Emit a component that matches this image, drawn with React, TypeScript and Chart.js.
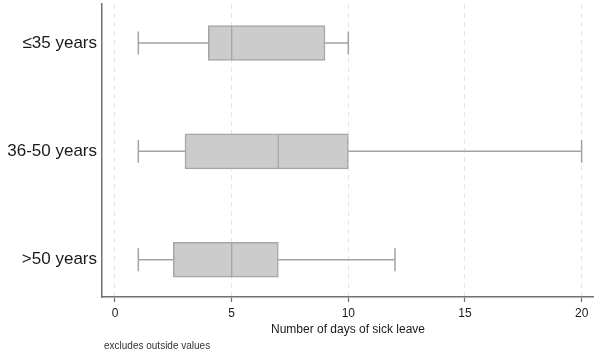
import React, { useEffect, useRef } from "react";
import { Chart, registerables } from "chart.js";
Chart.register(...registerables);

const categories = ["≤35 years", "36-50 years", ">50 years"];
const categoryPositions = [1, 2, 3];
const minValues = [1, 1, 1];
const q1Values = [4, 3, 2.5];
const medianValues = [5, 7, 5];
const q3Values = [9, 10, 7];
const maxValues = [10, 20, 12];
const xTickValues = [0, 5, 10, 15, 20];
const xTitle = "Number of days of sick leave";
const note = "excludes outside values";

const FONT = "'Liberation Sans', Arial, sans-serif";
const BOX_FILL = "#cccccc";
const BOX_BORDER = "#a6a6a6";
const WHISKER = "#a3a3a3";
const AXIS = "#707070";

const whiskerPlugin = {
  id: "whiskers",
  beforeDatasetsDraw(chart: any) {
    const { ctx } = chart;
    const x = chart.scales.x;
    const y = chart.scales.y;
    ctx.save();
    ctx.strokeStyle = WHISKER;
    ctx.lineWidth = 1.5;
    categoryPositions.forEach((pos, i) => {
      const yc = y.getPixelForValue(pos);
      const yTop = y.getPixelForValue(pos - 0.106);
      const yBot = y.getPixelForValue(pos + 0.106);
      const xMin = x.getPixelForValue(minValues[i]);
      const xQ1 = x.getPixelForValue(q1Values[i]);
      const xQ3 = x.getPixelForValue(q3Values[i]);
      const xMax = x.getPixelForValue(maxValues[i]);
      ctx.beginPath();
      ctx.moveTo(xMin, yc);
      ctx.lineTo(xQ1, yc);
      ctx.moveTo(xQ3, yc);
      ctx.lineTo(xMax, yc);
      ctx.moveTo(xMin, yTop);
      ctx.lineTo(xMin, yBot);
      ctx.moveTo(xMax, yTop);
      ctx.lineTo(xMax, yBot);
      ctx.stroke();
    });
    ctx.restore();
  },
  afterDraw(chart: any) {
    const { ctx } = chart;
    ctx.save();
    ctx.fillStyle = "#333333";
    ctx.font = `10px ${FONT}`;
    ctx.textAlign = "left";
    ctx.textBaseline = "middle";
    ctx.fillText(note, chart.chartArea.left + 2, chart.height - 9);
    ctx.restore();
  },
};

export default function App() {
  const ref = useRef<HTMLCanvasElement | null>(null);

  useEffect(() => {
    if (!ref.current) return;
    const lower = categoryPositions.map((p, i) => ({ x: [q1Values[i], medianValues[i]], y: p }));
    const upper = categoryPositions.map((p, i) => ({ x: [medianValues[i], q3Values[i]], y: p }));
    const chart = new Chart(ref.current, {
      type: "bar",
      data: {
        datasets: [
          {
            label: "Q1-median",
            data: lower as any,
            backgroundColor: BOX_FILL,
            borderColor: BOX_BORDER,
            borderWidth: { top: 1.5, bottom: 1.5, left: 1.5, right: 1 },
            borderSkipped: false,
            barThickness: 35,
            grouped: false,
          } as any,
          {
            label: "median-Q3",
            data: upper as any,
            backgroundColor: BOX_FILL,
            borderColor: BOX_BORDER,
            borderWidth: { top: 1.5, bottom: 1.5, left: 1, right: 1.5 },
            borderSkipped: false,
            barThickness: 35,
            grouped: false,
          } as any,
        ],
      },
      options: {
        indexAxis: "y",
        animation: false,
        responsive: false,
        layout: { padding: { top: 4, left: 0, right: 0, bottom: 0 } },
        plugins: { legend: { display: false }, tooltip: { enabled: false } },
        scales: {
          x: {
            type: "linear",
            position: "bottom",
            min: -0.557,
            max: 20.53,
            offset: false,
            afterBuildTicks: (scale: any) => {
              scale.ticks = xTickValues.map((v) => ({ value: v }));
            },
            afterFit: (scale: any) => {
              scale.height = 58;
              scale.paddingLeft = 0;
              scale.paddingRight = 0;
            },
            grid: {
              display: true,
              offset: false,
              color: "#e4e4e4",
              lineWidth: 1,
              drawTicks: true,
              tickLength: 5,
              tickColor: AXIS,
              tickWidth: 1.2,
            },
            border: { display: true, color: AXIS, width: 1.5, dash: [5, 4] },
            ticks: {
              color: "#1a1a1a",
              font: { family: FONT, size: 12 },
              padding: 4,
              maxRotation: 0,
            },
            title: {
              display: true,
              text: xTitle,
              color: "#1a1a1a",
              font: { family: FONT, size: 12 },
              padding: { top: 0, bottom: 18.5 },
            },
          },
          y: {
            type: "linear",
            position: "left",
            reverse: true,
            offset: false,
            min: 0.64,
            max: 3.344,
            afterBuildTicks: (scale: any) => {
              scale.ticks = categoryPositions.map((v) => ({ value: v }));
            },
            afterFit: (scale: any) => {
              scale.width = 102;
              scale.paddingTop = 0;
              scale.paddingBottom = 0;
            },
            grid: { display: false, drawTicks: false, offset: false },
            border: { display: true, color: AXIS, width: 1.5 },
            ticks: {
              color: "#1a1a1a",
              font: { family: FONT, size: 17 },
              padding: 5,
              callback: (v: any) => {
                const idx = categoryPositions.indexOf(Number(v));
                return idx >= 0 ? categories[idx] : "";
              },
            },
          },
        },
      } as any,
      plugins: [whiskerPlugin],
    });
    return () => chart.destroy();
  }, []);

  return (
    <div style={{ position: "fixed", left: 0, top: 0, width: 594, height: 355, background: "#ffffff" }}>
      <canvas ref={ref} width={594} height={355} style={{ display: "block" }} />
    </div>
  );
}
